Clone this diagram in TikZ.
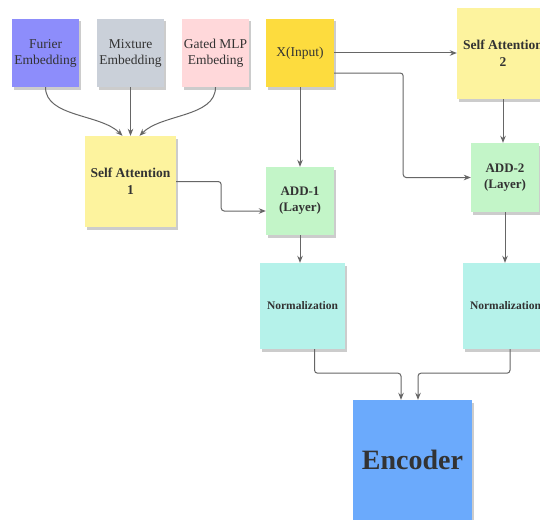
\documentclass[tikz,border=0pt]{standalone}
\usepackage{fontspec}
\setmainfont{Liberation Serif}
\usetikzlibrary{shadows,arrows.meta,calc}
\definecolor{furier}{HTML}{8D8DFB}
\definecolor{mixture}{HTML}{CAD0D9}
\definecolor{gated}{HTML}{FFD8DA}
\definecolor{xin}{HTML}{FDDC3E}
\definecolor{attn}{HTML}{FDF39E}
\definecolor{addl}{HTML}{C3F5C8}
\definecolor{norm}{HTML}{B5F2EA}
\definecolor{enc}{HTML}{6BAAFC}
\definecolor{txt}{HTML}{333333}
\definecolor{linec}{HTML}{666666}
\begin{document}
\begin{tikzpicture}[x=1pt,y=-1pt,
  card/.style={draw=none, inner sep=0pt, align=center, text=txt,
    drop shadow={shadow xshift=1.5pt, shadow yshift=-2.5pt, opacity=0.2, fill=black}},
  small/.style={minimum width=67pt, minimum height=68pt, font=\fontsize{13.5}{16}\selectfont},
  link/.style={draw=linec, line width=1pt, rounded corners=3pt,
    -{Stealth[length=7pt,width=5.5pt]}}]
\useasboundingbox (0,0) rectangle (540,519);
\clip (0,0) rectangle (540,519);
\fill[white] (0,0) rectangle (540,519);

% embeddings and input
\node[card, small, fill=furier] (fu) at (45.5,53) {Furier\\Embedding};
\node[card, small, fill=mixture] (mx) at (130.5,53) {Mixture\\Embedding};
\node[card, small, fill=gated] (gm) at (215.5,53) {Gated MLP\\Embeding};
\node[card, small, minimum width=68pt, fill=xin] (xi) at (300,53) {X(Input)};

% attention blocks
\node[card, fill=attn, minimum width=91pt, minimum height=91pt,
  font=\bfseries\fontsize{13.5}{17}\selectfont] (sa1) at (130.5,181.5) {Self Attention\\1};
\node[card, fill=attn, minimum width=92pt, minimum height=91pt,
  font=\bfseries\fontsize{13.5}{17}\selectfont] (sa2) at (503,53.5) {Self Attention\\2};

% add layers
\node[card, fill=addl, minimum width=68pt, minimum height=68pt,
  font=\bfseries\fontsize{13}{16}\selectfont] (a1) at (300,201) {ADD-1\\(Layer)};
\node[card, fill=addl, minimum width=68pt, minimum height=69pt,
  font=\bfseries\fontsize{13}{16}\selectfont] (a2) at (505,177.5) {ADD-2\\(Layer)};

% normalization
\node[card, fill=norm, minimum width=85pt, minimum height=86pt,
  font=\bfseries\fontsize{11.5}{14}\selectfont] (n1) at (302.5,306) {Normalization};
\node[card, fill=norm, minimum width=85pt, minimum height=86pt,
  font=\bfseries\fontsize{11.5}{14}\selectfont] (n2) at (505.5,306) {Normalization};

% encoder
\node[card, fill=enc, minimum width=119pt, minimum height=120pt,
  font=\bfseries\fontsize{28}{31}\selectfont] (en) at (412.5,460) {Encoder};

% connectors
\draw[link] (fu.south) .. controls +(0,30) and +(-22,-22) .. ($(sa1.north)+(-8,0)$);
\draw[link] (mx.south) -- (sa1.north);
\draw[link] (gm.south) .. controls +(0,30) and +(22,-22) .. ($(sa1.north)+(9,0)$);

\draw[link] (xi.east) -- (xi.east -| sa2.west);
\coordinate (xr) at ($(xi.east)+(0,20)$);
\draw[link] (xr) -- ++(69,0) |- (a2.west);
\draw[link] (xi.south) -- (a1.north);

\draw[link] (sa1.east) -- ++(45,0) |- ($(a1.west)+(0,10)$);
\draw[link] (sa2.south) -- (sa2.south |- a2.north);

\draw[link] (a1.south) -- (a1.south |- n1.north);
\draw[link] (a2.south) -- (a2.south |- n2.north);

\draw[link] ($(n1.south)+(12,0)$) -- ++(0,24) -| ($(en.north)+(-11.5,0)$);
\draw[link] ($(n2.south)+(4.5,0)$) -- ++(0,24) -| ($(en.north)+(5.5,0)$);
\end{tikzpicture}
\end{document}
